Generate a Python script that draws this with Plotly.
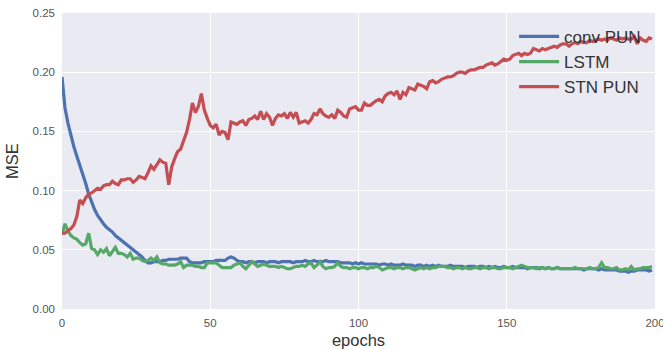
import plotly.graph_objects as go

epochs = list(range(200))

stn_pun = [
    0.064, 0.064, 0.066, 0.068, 0.071, 0.078, 0.092, 0.089, 0.094, 0.097,
    0.098, 0.100, 0.102, 0.101, 0.104, 0.105, 0.105, 0.108, 0.106, 0.105,
    0.109, 0.109, 0.110, 0.110, 0.107, 0.109, 0.112, 0.111, 0.110, 0.115,
    0.121, 0.118, 0.122, 0.126, 0.124, 0.123, 0.105, 0.120, 0.127, 0.133,
    0.135, 0.143, 0.149, 0.160, 0.174, 0.166, 0.171, 0.182, 0.168, 0.161,
    0.155, 0.153, 0.156, 0.147, 0.150, 0.149, 0.143, 0.158, 0.157, 0.156,
    0.158, 0.159, 0.155, 0.160, 0.161, 0.163, 0.160, 0.167, 0.160, 0.165,
    0.162, 0.155, 0.161, 0.164, 0.163, 0.165, 0.161, 0.166, 0.162, 0.166,
    0.157, 0.158, 0.159, 0.157, 0.160, 0.165, 0.164, 0.169, 0.165, 0.163,
    0.162, 0.164, 0.161, 0.168, 0.166, 0.163, 0.162, 0.169, 0.170, 0.171,
    0.168, 0.168, 0.174, 0.172, 0.172, 0.174, 0.176, 0.177, 0.175, 0.180,
    0.182, 0.183, 0.181, 0.184, 0.177, 0.183, 0.181, 0.187, 0.186, 0.185,
    0.190, 0.189, 0.188, 0.186, 0.192, 0.193, 0.191, 0.192, 0.194, 0.195,
    0.196, 0.196, 0.197, 0.199, 0.200, 0.200, 0.199, 0.201, 0.202, 0.202,
    0.203, 0.204, 0.204, 0.206, 0.207, 0.208, 0.206, 0.207, 0.209, 0.211,
    0.210, 0.211, 0.214, 0.215, 0.216, 0.214, 0.216, 0.215, 0.216, 0.220,
    0.219, 0.218, 0.220, 0.219, 0.220, 0.221, 0.222, 0.221, 0.223, 0.224,
    0.224, 0.222, 0.224, 0.225, 0.224, 0.226, 0.225, 0.225, 0.227, 0.226,
    0.227, 0.228, 0.227, 0.228, 0.227, 0.229, 0.228, 0.227, 0.229, 0.228,
    0.229, 0.228, 0.228, 0.230, 0.224, 0.229, 0.227, 0.226, 0.229, 0.228,
]

conv_pun = [
    0.196, 0.170, 0.157, 0.146, 0.137, 0.129, 0.122, 0.114, 0.106, 0.097,
    0.090, 0.084, 0.079, 0.075, 0.072, 0.069, 0.067, 0.065, 0.062, 0.060,
    0.058, 0.056, 0.054, 0.052, 0.050, 0.048, 0.046, 0.044, 0.041, 0.039,
    0.039, 0.040, 0.040, 0.040, 0.041, 0.041, 0.042, 0.042, 0.042, 0.042,
    0.043, 0.043, 0.043, 0.040, 0.039, 0.039, 0.039, 0.039, 0.040, 0.040,
    0.040, 0.040, 0.041, 0.041, 0.041, 0.041, 0.043, 0.044, 0.043, 0.041,
    0.040, 0.040, 0.039, 0.040, 0.040, 0.039, 0.040, 0.040, 0.040, 0.039,
    0.040, 0.040, 0.040, 0.039, 0.040, 0.040, 0.040, 0.040, 0.039, 0.040,
    0.040, 0.040, 0.041, 0.040, 0.040, 0.041, 0.040, 0.040, 0.040, 0.041,
    0.040, 0.040, 0.040, 0.040, 0.039, 0.039, 0.039, 0.039, 0.038, 0.039,
    0.038, 0.039, 0.038, 0.038, 0.038, 0.038, 0.038, 0.037, 0.038, 0.038,
    0.037, 0.038, 0.037, 0.037, 0.037, 0.038, 0.037, 0.037, 0.037, 0.036,
    0.037, 0.037, 0.036, 0.037, 0.036, 0.037, 0.036, 0.037, 0.036, 0.036,
    0.036, 0.037, 0.036, 0.036, 0.036, 0.036, 0.035, 0.036, 0.036, 0.036,
    0.035, 0.036, 0.036, 0.035, 0.036, 0.035, 0.036, 0.035, 0.035, 0.036,
    0.035, 0.035, 0.036, 0.035, 0.035, 0.035, 0.035, 0.034, 0.035, 0.035,
    0.035, 0.034, 0.035, 0.034, 0.035, 0.034, 0.034, 0.035, 0.034, 0.034,
    0.034, 0.034, 0.034, 0.034, 0.034, 0.034, 0.033, 0.034, 0.034, 0.034,
    0.034, 0.033, 0.034, 0.033, 0.033, 0.033, 0.033, 0.033, 0.032, 0.032,
    0.032, 0.031, 0.032, 0.032, 0.033, 0.033, 0.033, 0.033, 0.032, 0.033,
]

lstm = [
    0.063, 0.072, 0.066, 0.062, 0.060, 0.059, 0.056, 0.054, 0.055, 0.064,
    0.051, 0.050, 0.046, 0.050, 0.048, 0.051, 0.045, 0.048, 0.052, 0.047,
    0.047, 0.046, 0.044, 0.047, 0.042, 0.043, 0.043, 0.041, 0.040, 0.041,
    0.043, 0.041, 0.044, 0.039, 0.038, 0.038, 0.037, 0.037, 0.037, 0.038,
    0.040, 0.035, 0.037, 0.037, 0.037, 0.036, 0.036, 0.035, 0.035, 0.039,
    0.039, 0.039, 0.039, 0.037, 0.035, 0.035, 0.035, 0.035, 0.037, 0.038,
    0.039, 0.036, 0.034, 0.037, 0.040, 0.038, 0.036, 0.037, 0.038, 0.037,
    0.036, 0.036, 0.036, 0.035, 0.036, 0.035, 0.034, 0.034, 0.035, 0.036,
    0.036, 0.037, 0.036, 0.038, 0.039, 0.035, 0.037, 0.040, 0.036, 0.034,
    0.035, 0.035, 0.036, 0.039, 0.036, 0.035, 0.035, 0.034, 0.035, 0.035,
    0.034, 0.035, 0.035, 0.034, 0.035, 0.035, 0.036, 0.035, 0.033, 0.034,
    0.035, 0.035, 0.034, 0.035, 0.035, 0.034, 0.035, 0.035, 0.034, 0.033,
    0.034, 0.035, 0.034, 0.035, 0.034, 0.035, 0.035, 0.036, 0.036, 0.036,
    0.035, 0.035, 0.034, 0.035, 0.035, 0.034, 0.035, 0.034, 0.034, 0.035,
    0.035, 0.034, 0.035, 0.035, 0.034, 0.035, 0.035, 0.034, 0.034, 0.035,
    0.035, 0.035, 0.034, 0.035, 0.036, 0.037, 0.036, 0.035, 0.035, 0.035,
    0.034, 0.035, 0.035, 0.034, 0.035, 0.034, 0.034, 0.035, 0.034, 0.034,
    0.034, 0.034, 0.034, 0.035, 0.034, 0.034, 0.034, 0.034, 0.035, 0.034,
    0.034, 0.035, 0.039, 0.035, 0.035, 0.034, 0.034, 0.035, 0.033, 0.033,
    0.034, 0.033, 0.036, 0.033, 0.034, 0.034, 0.035, 0.035, 0.035, 0.036,
]

series_names = ["conv PUN", "LSTM", "STN PUN"]
series_data = [conv_pun, lstm, stn_pun]
series_colors = ["#4C72B0", "#55A868", "#C44E52"]

x_ticks = [0, 50, 100, 150, 200]
y_ticks = [0.00, 0.05, 0.10, 0.15, 0.20, 0.25]

fig = go.Figure()
for name, vals, col in zip(series_names, series_data, series_colors):
    fig.add_trace(go.Scatter(
        x=epochs, y=vals, mode="lines", name=name,
        line=dict(color=col, width=3.2),
    ))

font_family = "Liberation Sans, Arial, sans-serif"
fig.update_layout(
    width=663, height=349,
    margin=dict(l=62, r=8, t=13, b=40, autoexpand=False),
    paper_bgcolor="white",
    plot_bgcolor="#EAEAF2",
    font=dict(family=font_family, color="#555555", size=11.5),
    showlegend=True,
    legend=dict(
        x=0.985, y=0.98, xanchor="right", yanchor="top",
        bgcolor="rgba(0,0,0,0)",
        font=dict(size=17, color="#333333"),
        tracegroupgap=0,
        itemwidth=40,
    ),
    xaxis=dict(
        range=[0, 200], tickvals=x_ticks,
        ticktext=[str(t) for t in x_ticks],
        showgrid=True, gridcolor="white", gridwidth=1.2,
        zeroline=False, showline=False, ticks="", automargin=False,
        ticklabeloverflow="allow", ticklabelstandoff=5,
        title=dict(text="epochs", font=dict(size=16.5, color="#333333"), standoff=10),
    ),
    yaxis=dict(
        range=[0, 0.25], tickvals=y_ticks,
        ticktext=[f"{t:.2f}" for t in y_ticks],
        showgrid=True, gridcolor="white", gridwidth=1.2,
        zeroline=False, showline=False, ticks="", automargin=False,
        ticklabeloverflow="allow", ticklabelstandoff=6,
        title=dict(text="MSE", font=dict(size=16.5, color="#333333"), standoff=9),
    ),
)

fig.write_html(
    "out.html",
    config={"displayModeBar": False},
    post_script="document.body.style.margin='0';document.body.style.overflow='hidden';",
)
